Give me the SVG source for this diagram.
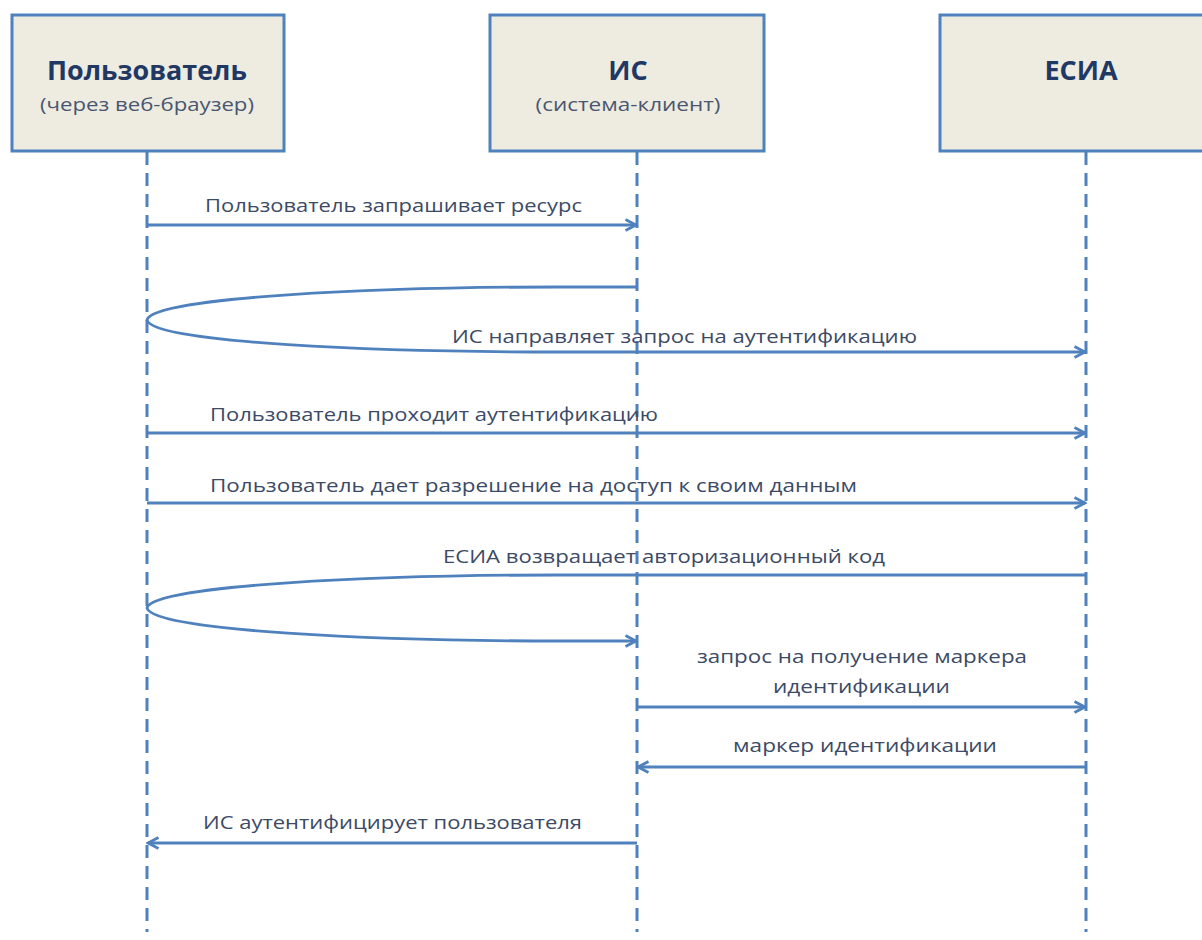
<svg xmlns="http://www.w3.org/2000/svg" width="1202" height="940" viewBox="0 0 1202 940">
<style>
.box{fill:#eeece1;stroke:#4f81bd;stroke-width:3}
.life{stroke:#4f81bd;stroke-width:3;stroke-dasharray:13 8;fill:none}
.msg{stroke:#4f81bd;stroke-width:2.8;fill:none}
.title{font-family:"Open Sans","Liberation Sans",sans-serif;font-weight:bold;font-size:27px;fill:#1f3864;text-anchor:middle}
.sub{font-family:"Open Sans","Liberation Sans",sans-serif;font-size:18px;fill:#4a5670;text-anchor:middle}
.lbl{font-family:"Open Sans","Liberation Sans",sans-serif;font-size:18px;fill:#3c4a66}
</style>
<defs>
<marker id="arr" viewBox="0 0 14 14" refX="12" refY="7" markerWidth="14" markerHeight="14" markerUnits="userSpaceOnUse" orient="auto">
<path d="M1.5,1.5 L12,7 L1.5,12.5" fill="none" stroke="#4f81bd" stroke-width="2.8"/>
</marker>
</defs>
<rect width="1202" height="940" fill="#ffffff"/>
<g id="lifelines">
<line class="life" x1="147" y1="152" x2="147" y2="932"/>
<line class="life" x1="637" y1="152" x2="637" y2="932"/>
<line class="life" x1="1086" y1="152" x2="1086" y2="932"/>
</g>
<g id="node-user">
<rect class="box" x="12" y="15" width="272" height="136"/>
<text class="title" x="147" y="80" textLength="200" lengthAdjust="spacingAndGlyphs">Пользователь</text>
<text class="sub" x="147" y="111" textLength="214" lengthAdjust="spacingAndGlyphs">(через веб-браузер)</text>
</g>
<g id="node-is">
<rect class="box" x="490" y="15" width="274" height="136"/>
<text class="title" x="628" y="80">ИС</text>
<text class="sub" x="628" y="111" textLength="185" lengthAdjust="spacingAndGlyphs">(система-клиент)</text>
</g>
<g id="node-esia">
<rect class="box" x="940" y="15" width="275" height="136"/>
<text class="title" x="1081" y="80">ЕСИА</text>
</g>
<g id="connectors">
<path class="msg" d="M147,225 L636,225" marker-end="url(#arr)"/>
<path class="msg" d="M637,287 L560,287 C380,287 152,297 147,320 C152,343 380,352 560,352 L1085,352" marker-end="url(#arr)"/>
<path class="msg" d="M147,433 L1085,433" marker-end="url(#arr)"/>
<path class="msg" d="M147,503 L1085,503" marker-end="url(#arr)"/>
<path class="msg" d="M1086,575 L560,575 C380,575 152,585 147,608 C152,631 380,641 560,641 L636,641" marker-end="url(#arr)"/>
<path class="msg" d="M637,707 L1085,707" marker-end="url(#arr)"/>
<path class="msg" d="M1086,767 L638,767" marker-end="url(#arr)"/>
<path class="msg" d="M637,843 L148,843" marker-end="url(#arr)"/>
</g>
<g id="labels">
<text class="lbl" x="205" y="212" textLength="377" lengthAdjust="spacingAndGlyphs">Пользователь запрашивает ресурс</text>
<text class="lbl" x="452" y="343" textLength="465" lengthAdjust="spacingAndGlyphs">ИС направляет запрос на аутентификацию</text>
<text class="lbl" x="210" y="421" textLength="448" lengthAdjust="spacingAndGlyphs">Пользователь проходит аутентификацию</text>
<text class="lbl" x="210" y="492" textLength="647" lengthAdjust="spacingAndGlyphs">Пользователь дает разрешение на доступ к своим данным</text>
<text class="lbl" x="443" y="563" textLength="442" lengthAdjust="spacingAndGlyphs">ЕСИА возвращает авторизационный код</text>
<text class="lbl" x="697" y="663" textLength="330" lengthAdjust="spacingAndGlyphs">запрос на получение маркера</text>
<text class="lbl" x="773" y="693" textLength="177" lengthAdjust="spacingAndGlyphs">идентификации</text>
<text class="lbl" x="733" y="752" textLength="264" lengthAdjust="spacingAndGlyphs">маркер идентификации</text>
<text class="lbl" x="203" y="829" textLength="379" lengthAdjust="spacingAndGlyphs">ИС аутентифицирует пользователя</text>
</g>
</svg>
